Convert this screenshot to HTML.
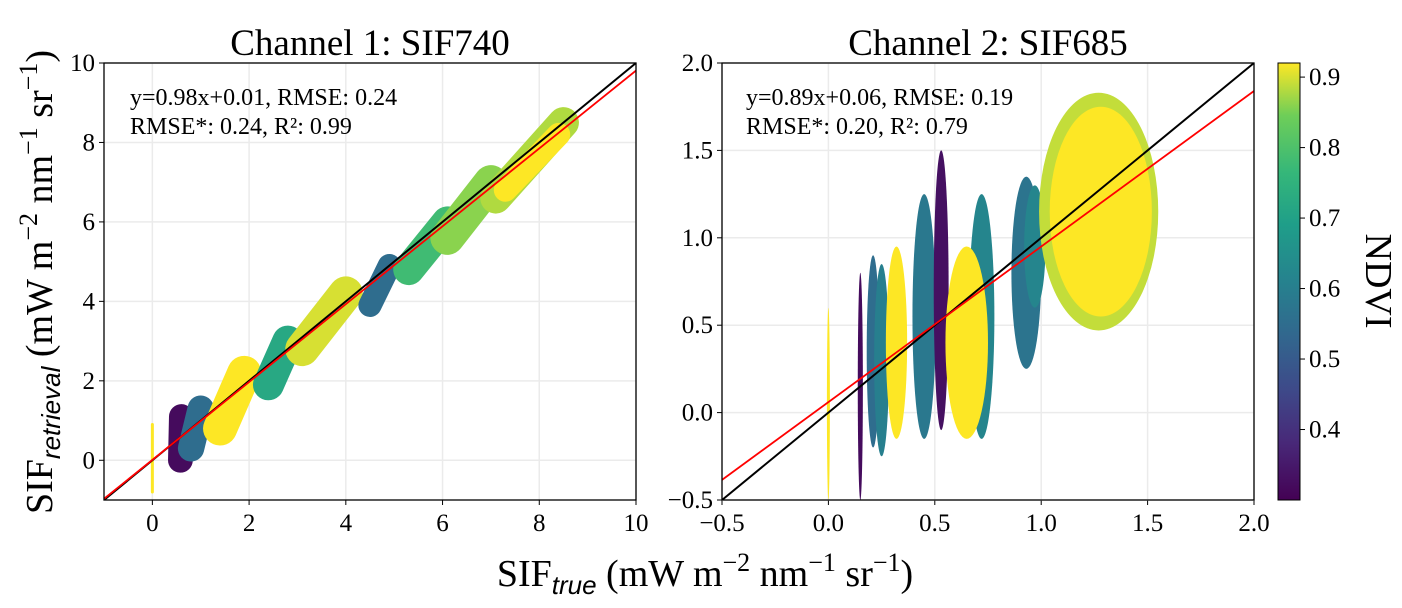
<!DOCTYPE html>
<html><head><meta charset="utf-8"><style>
body{margin:0;background:#fff;}
svg{display:block;font-family:"Liberation Serif",serif;}
</style></head><body>
<svg id="chart" width="1402" height="608">
<defs>
<linearGradient id="vir" x1="0" y1="1" x2="0" y2="0">
<stop offset="0" stop-color="#440154"/><stop offset="0.13" stop-color="#482878"/><stop offset="0.25" stop-color="#3e4989"/><stop offset="0.38" stop-color="#31688e"/><stop offset="0.5" stop-color="#26828e"/><stop offset="0.63" stop-color="#1f9e89"/><stop offset="0.75" stop-color="#35b779"/><stop offset="0.88" stop-color="#6ece58"/><stop offset="1" stop-color="#fde725"/>
</linearGradient>
<clipPath id="clipL"><rect x="104" y="63" width="532" height="437"/></clipPath>
<clipPath id="clipR"><rect x="722" y="63" width="532" height="437"/></clipPath>
</defs>
<g id="root"></g>
</svg>
<script>
// ---- data ----
const leftXTicks=[0,2,4,6,8,10];
const leftYTicks=[0,2,4,6,8,10];
const rightXTicks=[-0.5,0.0,0.5,1.0,1.5,2.0];
const rightYTicks=[-0.5,0.0,0.5,1.0,1.5,2.0];
const cbTicks=[0.4,0.5,0.6,0.7,0.8,0.9];
// left clusters: segment start x,y ; end x,y ; thickness (data y units) ; ndvi
const lX0=[0.0,0.58,0.8,1.4,2.4,3.1,4.5,5.3,6.1,7.1,7.3];
const lY0=[-0.8,0.0,0.3,0.8,1.9,2.8,3.9,4.8,5.6,6.6,6.8];
const lX1=[0.0,0.6,1.0,1.9,2.8,4.0,4.9,6.1,7.0,8.5,8.4];
const lY1=[0.9,1.1,1.3,2.2,3.0,4.2,4.9,6.0,7.0,8.5,8.2];
const lW=[0.08,0.8,0.85,1.1,1.0,1.1,0.75,1.0,1.1,1.0,0.75];
const lC=[0.92,0.32,0.55,0.92,0.72,0.9,0.55,0.78,0.86,0.88,0.92];
// right clusters: center x,y ; half-width x ; half-height y ; ndvi
const rCX=[0.0,0.15,0.21,0.25,0.32,0.45,0.53,0.72,0.65,0.93,0.97,1.27,1.28];
const rCY=[0.05,0.15,0.35,0.3,0.4,0.55,0.7,0.55,0.4,0.8,0.95,1.15,1.15];
const rRX=[0.004,0.012,0.03,0.035,0.05,0.055,0.035,0.06,0.1,0.07,0.05,0.28,0.24];
const rRY=[0.55,0.65,0.55,0.55,0.55,0.7,0.8,0.7,0.55,0.55,0.35,0.68,0.6];
const rC=[0.92,0.32,0.55,0.6,0.92,0.58,0.33,0.62,0.92,0.57,0.62,0.89,0.92];
const slopes=[0.98,0.89];
const intercepts=[0.01,0.06];

const NS="http://www.w3.org/2000/svg";
const root=document.getElementById('root');
function mk(tag,attrs,parent){const e=document.createElementNS(NS,tag);for(const k in attrs)e.setAttribute(k,attrs[k]);(parent||root).appendChild(e);return e;}
const VS=[[0,'#440154'],[0.13,'#482878'],[0.25,'#3e4989'],[0.38,'#31688e'],[0.5,'#26828e'],[0.63,'#1f9e89'],[0.75,'#35b779'],[0.88,'#6ece58'],[1,'#fde725']];
function hex(h){return [1,3,5].map(i=>parseInt(h.substr(i,2),16));}
function vir(v){let t=(v-0.30)/(0.92-0.30);t=Math.max(0,Math.min(1,t));for(let i=1;i<VS.length;i++){if(t<=VS[i][0]){const a=hex(VS[i-1][1]),b=hex(VS[i][1]);const f=(t-VS[i-1][0])/(VS[i][0]-VS[i-1][0]);return 'rgb('+a.map((c,j)=>Math.round(c+(b[j]-c)*f)).join(',')+')';}}return VS[8][1];}

function panel(px,min,max,xt,yt,fmt,name){
  const W=532,H=437,T=63;
  const sx=v=>px+(v-min)/(max-min)*W, sy=v=>T+H-(v-min)/(max-min)*H;
  const g=mk('g',{});
  
  
  xt.forEach(v=>{const l=mk('line',{x1:sx(v),x2:sx(v),y1:T,y2:T+H,stroke:'#ebebeb','stroke-width':1.5},g);
    mk('line',{x1:sx(v),x2:sx(v),y1:T+H,y2:T+H+5,stroke:'#000'},g);
    const t=mk('text',{x:sx(v),y:T+H+31,'text-anchor':'middle','font-size':25},g);t.textContent=fmt(v);});
  yt.forEach(v=>{const l=mk('line',{y1:sy(v),y2:sy(v),x1:px,x2:px+W,stroke:'#ebebeb','stroke-width':1.5},g);
    mk('line',{y1:sy(v),y2:sy(v),x1:px-5,x2:px,stroke:'#000'},g);
    const t=mk('text',{x:px-9,y:sy(v)+8,'text-anchor':'end','font-size':25},g);t.textContent=fmt(v);});
  return {g,sx,sy};
}
const fmtL=v=>String(v), fmtR=v=>(v<0?'\u2212':'')+Math.abs(v).toFixed(1);
const L=panel(104,-1,10,leftXTicks,leftYTicks,fmtL,'channel1-panel');
const R=panel(722,-0.5,2.0,rightXTicks,rightYTicks,fmtR,'channel2-panel');

const gl=mk('g',{'clip-path':'url(#clipL)'},L.g);
const kL=437/11;
for(let i=0;i<lX0.length;i++){
  const s=mk('line',{x1:L.sx(lX0[i]),y1:L.sy(lY0[i]),x2:L.sx(lX1[i]),y2:L.sy(lY1[i]),stroke:vir(lC[i]),'stroke-width':Math.max(3,lW[i]*kL*0.78),'stroke-linecap':'round'},gl);
  
  
}
const gr=mk('g',{'clip-path':'url(#clipR)'},R.g);
const kR=437/2.5;
for(let i=0;i<rCX.length;i++){
  const e=mk('ellipse',{cx:R.sx(rCX[i]),cy:R.sy(rCY[i]),rx:Math.max(1.5,rRX[i]*532/2.5),ry:rRY[i]*kR,fill:vir(rC[i])},gr);
  
  
}
[[L,-1,10,0],[R,-0.5,2,1]].forEach(([P,a,b,k])=>{
  const o=mk('line',{x1:P.sx(a),y1:P.sy(a),x2:P.sx(b),y2:P.sy(b),stroke:'#000','stroke-width':2},k?gr:gl);
  
  const r=mk('line',{x1:P.sx(a),y1:P.sy(slopes[k]*a+intercepts[k]),x2:P.sx(b),y2:P.sy(slopes[k]*b+intercepts[k]),stroke:'#ff0000','stroke-width':1.8},k?gr:gl);
  
  const f=mk('rect',{x:P.sx(a),y:63,width:532,height:437,fill:'none',stroke:'#000','stroke-width':1.3},P.g);
  
});
// colorbar
const cb=mk('rect',{x:1278,y:63,width:22,height:437,fill:'url(#vir)',stroke:'#000','stroke-width':1});

cbTicks.forEach(v=>{const y=500-(v-0.30)/(0.92-0.30)*437;mk('line',{x1:1300,x2:1305,y1:y,y2:y,stroke:'#000'});
  const t=mk('text',{x:1309,y:y+8,'font-size':25});t.textContent=v.toFixed(1);});
</script>
<svg width="1402" height="608" style="position:absolute;left:0;top:0">
<text x="370" y="55" text-anchor="middle" font-size="37">Channel 1: SIF740</text>
<text x="988" y="55" text-anchor="middle" font-size="37">Channel 2: SIF685</text>
<text x="130" y="105" font-size="24">y=0.98x+0.01, RMSE: 0.24</text>
<text x="130" y="134" font-size="24">RMSE*: 0.24, R²: 0.99</text>
<text x="746" y="105" font-size="24">y=0.89x+0.06, RMSE: 0.19</text>
<text x="746" y="134" font-size="24">RMSE*: 0.20, R²: 0.79</text>
<text transform="translate(52,282) rotate(-90)" text-anchor="middle" font-size="38">SIF<tspan font-family="Liberation Sans,sans-serif" font-style="italic" font-size="26" dy="8">retrieval</tspan><tspan dy="-8"> (mW m</tspan><tspan font-size="26" dy="-15">−2</tspan><tspan dy="15"> nm</tspan><tspan font-size="26" dy="-15">−1</tspan><tspan dy="15"> sr</tspan><tspan font-size="26" dy="-15">−1</tspan><tspan dy="15">)</tspan></text>
<text x="705" y="586" text-anchor="middle" font-size="38">SIF<tspan font-family="Liberation Sans,sans-serif" font-style="italic" font-size="26" dy="8">true</tspan><tspan dy="-8"> (mW m</tspan><tspan font-size="26" dy="-15">−2</tspan><tspan dy="15"> nm</tspan><tspan font-size="26" dy="-15">−1</tspan><tspan dy="15"> sr</tspan><tspan font-size="26" dy="-15">−1</tspan><tspan dy="15">)</tspan></text>
<text transform="translate(1366,281) rotate(90)" text-anchor="middle" font-size="38">NDVI</text>
</svg>
</body></html>
